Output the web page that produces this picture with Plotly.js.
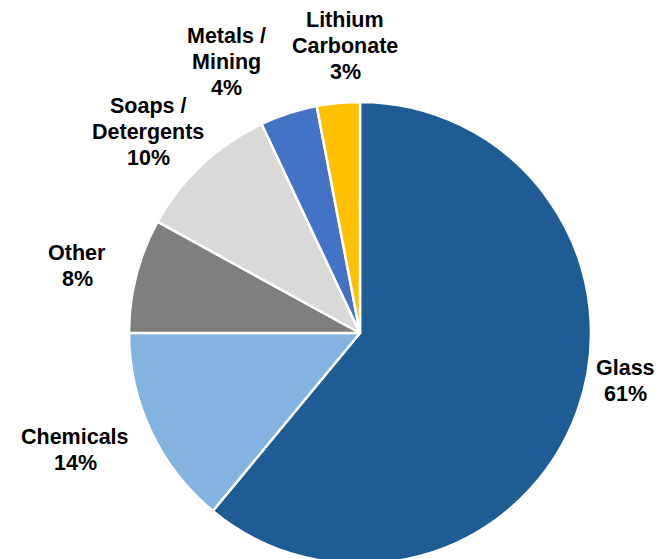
<!DOCTYPE html>
<html><head><meta charset="utf-8">
<script src="https://cdn.plot.ly/plotly-3.0.1.min.js"></script>
<style>html,body{margin:0;padding:0;background:#fff;overflow:hidden}#chart{width:667px;height:564px}</style>
</head><body><div id="chart"></div>
<script>
const categories = ["Glass", "Chemicals", "Other", "Soaps /<br>Detergents", "Metals /<br>Mining", "Lithium<br>Carbonate"];
const shares = [61, 14, 8, 10, 4, 3];
const colors = ["#1F5C96", "#85B3DF", "#7F7F7F", "#D9D9D9", "#4472C4", "#FFC000"];

// label block centres in page pixels (layout only)
const labelPos = [[625, 381], [75, 450], [77, 266], [148, 132], [226, 62], [345, 46]];
const lineGap = 26;

const W = 667, H = 564;
const M = {l: 129, r: 76, t: 102, b: 0};
const pw = W - M.l - M.r, ph = H - M.t - M.b;

const annotations = [];
categories.forEach((c, i) => {
  const lines = c.split("<br>").concat([shares[i] + "%"]);
  const n = lines.length;
  lines.forEach((ln, k) => {
    const py = labelPos[i][1] + (k - (n - 1) / 2) * lineGap;
    annotations.push({
      xref: "paper", yref: "paper",
      x: (labelPos[i][0] - M.l) / pw,
      y: 1 - (py - M.t) / ph,
      xanchor: "center", yanchor: "middle",
      text: "<b>" + ln + "</b>",
      showarrow: false, align: "center",
      font: {family: "Liberation Sans, Arial, sans-serif", size: 21.5, color: "#000"}
    });
  });
});

Plotly.newPlot("chart", [{
  type: "pie",
  labels: categories,
  values: shares,
  sort: false,
  direction: "clockwise",
  rotation: 0,
  marker: {colors: colors, line: {color: "#fff", width: 2.5}},
  textinfo: "none",
  hoverinfo: "none",
  showlegend: false
}], {
  width: W, height: H,
  margin: M,
  paper_bgcolor: "#fff",
  showlegend: false,
  annotations: annotations
}, {displayModeBar: false, staticPlot: true});
</script></body></html>
